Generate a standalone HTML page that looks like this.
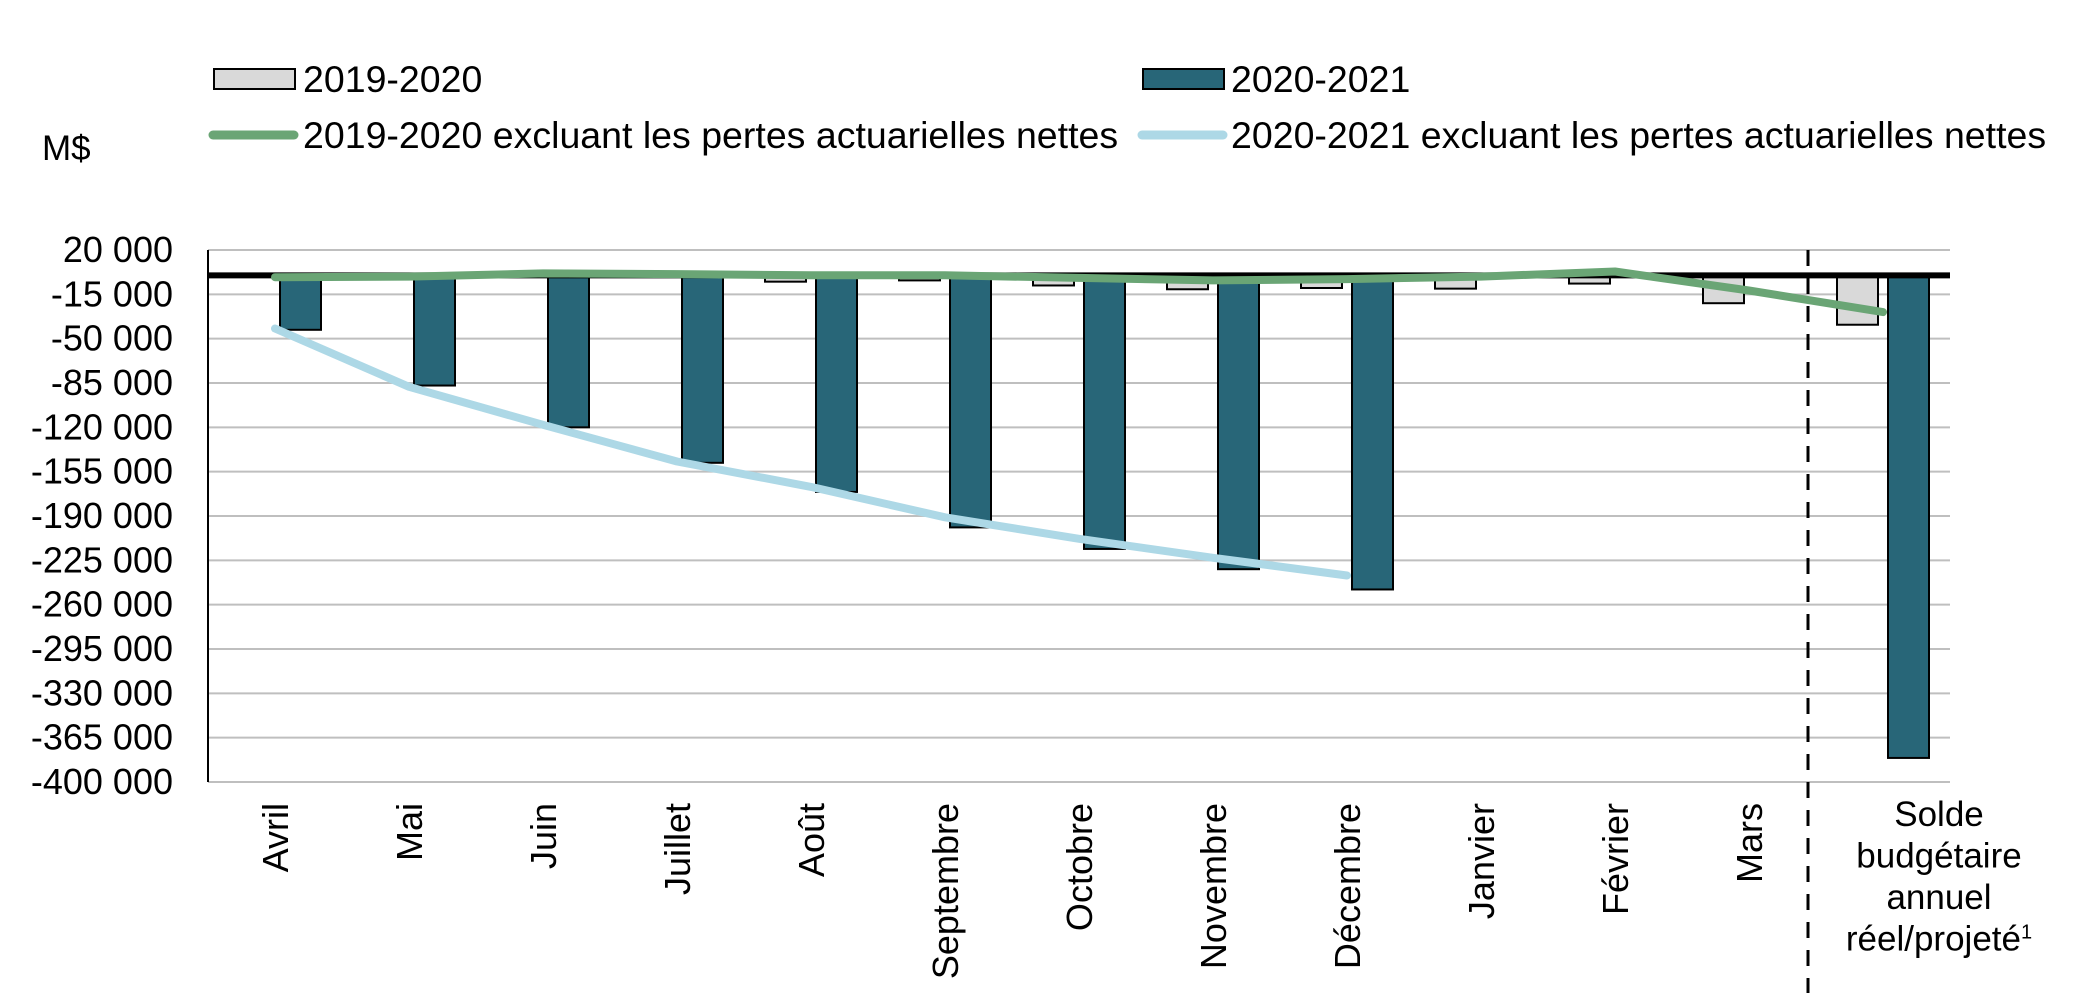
<!DOCTYPE html>
<html><head><meta charset="utf-8">
<style>
html,body{margin:0;padding:0;background:#fff;}
svg{display:block;font-family:"Liberation Sans",Arial,sans-serif;}
</style></head>
<body>
<svg id="chart" width="2087" height="993" viewBox="0 0 2087 993" xmlns="http://www.w3.org/2000/svg">
  <g id="legend">
    <g>
      <rect x="214" y="69" width="81" height="20" fill="#d9d9d9" stroke="#000" stroke-width="2"/>
      <text x="303" y="92" font-size="37.5">2019-2020</text>
    </g>
    <g>
      <rect x="1143" y="69" width="81" height="20" fill="#286678" stroke="#000" stroke-width="2"/>
      <text x="1231" y="92" font-size="37.5">2020-2021</text>
    </g>
    <g>
      <line x1="213" y1="135" x2="294" y2="135" stroke="#6aa575" stroke-width="9" stroke-linecap="round"/>
      <text x="303" y="148" font-size="37.5">2019-2020 excluant les pertes actuarielles nettes</text>
    </g>
    <g>
      <line x1="1142" y1="135" x2="1223" y2="135" stroke="#add8e6" stroke-width="9" stroke-linecap="round"/>
      <text x="1231" y="148" font-size="37.5">2020-2021 excluant les pertes actuarielles nettes</text>
    </g>
  </g>
  <text x="42" y="160" font-size="35">M$</text>
  <g id="grid"></g>
  <g id="ylabels"></g>
  <g id="bars"></g>
  <g id="lines"></g>
  <g id="xlabels"></g>
</svg>
<script>
const categories = ["Avril","Mai","Juin","Juillet","Août","Septembre","Octobre","Novembre","Décembre","Janvier","Février","Mars","Solde budgétaire annuel réel/projeté"];
const bars2019 = [-1000,-1000,-1000,-1000,-5000,-4000,-8000,-11000,-10000,-10500,-6500,-22000,-39000];
const bars2020 = [-43000,-87000,-120000,-148000,-171000,-199000,-216000,-232000,-248000,null,null,null,-381000];
const line2019 = [-1500,-1000,1500,1000,0,0,-2000,-4000,-3000,-1000,3000,-12000,-29000];
const line2020 = [-42000,-88000,-118000,-147000,-167000,-191000,-208000,-223000,-237000,null,null,null,null];
const yTicks = [20000,-15000,-50000,-85000,-120000,-155000,-190000,-225000,-260000,-295000,-330000,-365000,-400000];

const NS="http://www.w3.org/2000/svg";
const X0=208, X1=1950, YTOP=250, YBOT=782, VMAX=20000, VMIN=-400000;
const slot=(X1-X0)/categories.length;
function y(v){return YTOP+(VMAX-v)/(VMAX-VMIN)*(YBOT-YTOP);}
function xc(i){return X0+slot*(i+0.5);}
function mk(tag,attrs,parent){const e=document.createElementNS(NS,tag);for(const k in attrs)e.setAttribute(k,attrs[k]);parent.appendChild(e);return e;}
function fmt(v){const s=Math.abs(v).toString().replace(/\B(?=(\d{3})+(?!\d))/g," ");return (v<0?"-":"")+s;}

const grid=document.getElementById('grid');
const yl=document.getElementById('ylabels');
yTicks.forEach(t=>{
  const g=mk('line',{x1:X0,x2:X1,y1:y(t),y2:y(t),stroke:'#bfbfbf','stroke-width':2},grid);
  
  
  const l=mk('text',{x:173,y:y(t)+12,'font-size':36,'text-anchor':'end'},yl);
  l.textContent=fmt(t);
  
  
});
const ax=mk('line',{x1:X0,x2:X0,y1:YTOP,y2:YBOT,stroke:'#000','stroke-width':2},grid);


const dash=mk('line',{x1:X0+slot*12-8,x2:X0+slot*12-8,y1:YTOP,y2:993,stroke:'#000','stroke-width':3,'stroke-dasharray':'16 12'},grid);



const bars=document.getElementById('bars');
const BW=41, OFF=25.5;
categories.forEach((c,i)=>{
  const v1=bars2019[i];
  if(v1!==null){
    const top=Math.min(y(0),y(v1)), h=Math.abs(y(v1)-y(0));
    const r=mk('rect',{x:xc(i)-OFF-BW/2,y:top,width:BW,height:h,fill:'#d9d9d9',stroke:'#000','stroke-width':2},bars);
    
    
  }
  const v2=bars2020[i];
  if(v2!==null){
    const top=Math.min(y(0),y(v2)), h=Math.abs(y(v2)-y(0));
    const r=mk('rect',{x:xc(i)+OFF-BW/2,y:top,width:BW,height:h,fill:'#286678',stroke:'#000','stroke-width':2},bars);
    
    
  }
});
const zl=mk('line',{x1:X0,x2:X1,y1:y(0),y2:y(0),stroke:'#000','stroke-width':6},bars);



const lines=document.getElementById('lines');
function path(arr){let d="";arr.forEach((v,i)=>{if(v===null)return;d+=(d?"L":"M")+xc(i).toFixed(1)+" "+y(v).toFixed(1);});return d;}
const p1=mk('path',{d:path(line2020),fill:'none',stroke:'#add8e6','stroke-width':8,'stroke-linecap':'round','stroke-linejoin':'round'},lines);


const p2=mk('path',{d:path(line2019),fill:'none',stroke:'#6aa575','stroke-width':8,'stroke-linecap':'round','stroke-linejoin':'round'},lines);



const xl=document.getElementById('xlabels');
categories.forEach((c,i)=>{
  if(i<12){
    const t=mk('text',{x:0,y:0,'font-size':36,'text-anchor':'end',transform:`translate(${xc(i)+13},803) rotate(-90)`},xl);
    t.textContent=c;
    
    
  }else{
    const t=mk('text',{x:1939,y:826,'font-size':35,'text-anchor':'middle'},xl);
    
    
    const parts=["Solde","budgétaire","annuel","réel/projeté"];
    parts.forEach((p,j)=>{
      const s=mk('tspan',{x:1939,dy:j===0?0:41.5},t);
      s.textContent=p;
      if(j===3){const sup=mk('tspan',{'font-size':20,dy:-12},t);sup.textContent="1";}
    });
  }
});
</script>
</body></html>
